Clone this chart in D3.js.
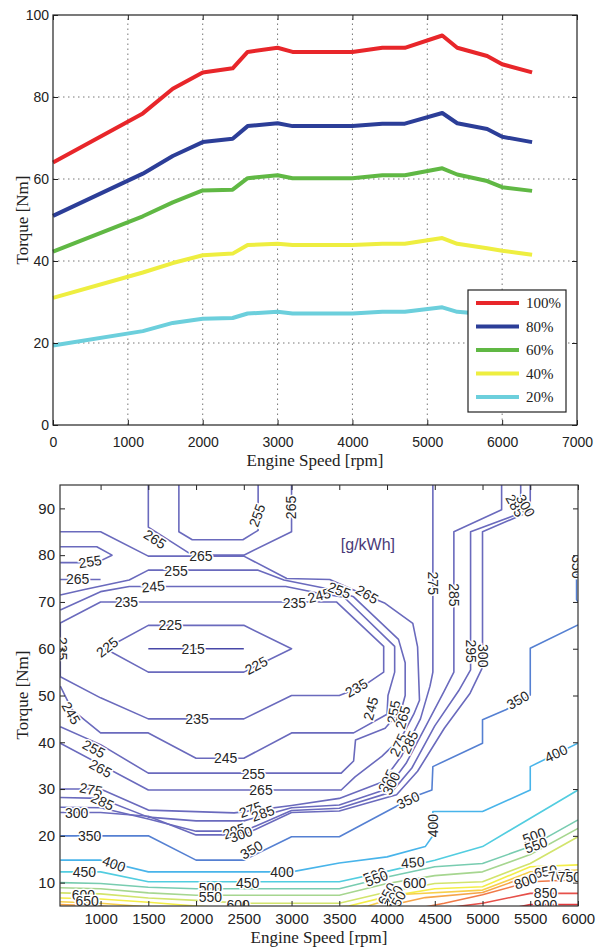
<!DOCTYPE html>
<html>
<head>
<meta charset="utf-8">
<script src="https://cdn.jsdelivr.net/npm/d3@7"></script>
<style>
  body { margin: 0; background: #fff; }
</style>
</head>
<body>
<div id="chart"></div>
<script>
// ---------- top chart data: torque curve at each load ----------
var speed   = [0, 1200, 1600, 2000, 2400, 2600, 3000, 3200, 4000, 4400, 4700, 5200, 5400, 5800, 6000, 6400];
var load100 = [64, 76, 82, 86, 87, 91, 92, 91, 91, 92, 92, 95, 92, 90, 88, 86];
var load80  = [51, 61.3, 65.6, 69, 69.8, 72.9, 73.6, 72.9, 72.9, 73.5, 73.5, 76.1, 73.6, 72.2, 70.3, 69];
var load60  = [42.3, 50.9, 54.3, 57.2, 57.4, 60.2, 60.9, 60.2, 60.2, 60.9, 60.9, 62.6, 61.1, 59.5, 58, 57.1];
var load40  = [31, 37.2, 39.5, 41.4, 41.8, 43.9, 44.2, 43.9, 43.9, 44.2, 44.2, 45.6, 44.2, 43.1, 42.5, 41.5];
var load20  = [19.4, 22.9, 24.9, 25.9, 26.1, 27.2, 27.6, 27.2, 27.2, 27.6, 27.6, 28.7, 27.6, 27, 26.5, 26];
var loadNames  = ["100%", "80%", "60%", "40%", "20%"];
var loadColors = ["#e8262a", "#2c3e98", "#60b844", "#eeee40", "#6ccfdc"];
var topXTicks = [0, 1000, 2000, 3000, 4000, 5000, 6000, 7000];
var topYTicks = [0, 20, 40, 60, 80, 100];

// ---------- bottom chart data: BSFC contour lines [rpm, Nm] ----------
var c215  = [[1500,60],[2500,60]];
var c225  = [[1050,60],[1500,65],[2500,65],[3000,60],[2500,55],[1500,55],[1050,60]];
var c235  = [[578,54],[1000,49.5],[1500,45],[2500,45],[3000,50],[3500,50],[3750,52],[3965,55],[3965,60.5],[3470,70],[1000,70],[578,65.5],[578,54]];
var c245  = [[578,52],[700,47],[1000,42],[1500,42],[2000,36.6],[2500,36.6],[3000,42],[3650,42],[4000,46],[4010,50],[4080,55],[4080,60.5],[3550,71],[3250,72],[2940,73.3],[1300,73.3],[1000,72.2],[578,68.3]];
var c255  = [[578,43.3],[1000,39.5],[1500,33.4],[3520,33.4],[3650,36],[3670,40.5],[3980,43],[4150,47],[4190,50],[4190,57],[4120,62],[3650,71.1],[3430,72.6],[2920,74.7],[2650,76.8],[1500,76.8],[1300,74.7],[820,72.6],[578,71.5]];
var c255b = [[578,81.8],[960,81.8],[1120,80],[960,78.4],[578,78.4]];
var c255c = [[1820,95],[1820,85],[1960,83.3],[2490,83.3],[2650,85.3],[2650,95]];
var c265  = [[578,85],[1000,85],[1500,79.8],[2500,79.8],[2950,75],[3400,74.8],[3710,72],[3980,69.7],[4270,65.4],[4320,60.4],[4340,49],[4280,46],[4150,41],[3945,37],[3665,32.6],[3520,29.8],[1500,29.8],[578,39.8]];
var c265b = [[1500,95],[1500,86],[1960,80],[2500,80],[3000,85],[3000,95]];
var c265c = [[578,74.8],[1000,74.8]];
var c275  = [[578,30],[1000,30],[1500,25.5],[2400,24.9],[3000,26.5],[3500,28],[3950,31.5],[4150,37],[4350,45],[4450,52],[4480,55],[4480,95]];
var c285  = [[578,28.2],[1000,28],[1500,24],[2000,23.2],[2500,23.2],[3000,26],[3500,26.6],[4000,30],[4200,35.5],[4420,44],[4600,51],[4700,55],[4700,85],[5200,89.7],[5200,95]];
var c295  = [[578,26.1],[1000,26],[1500,23.6],[2000,21],[2500,21],[3000,25.4],[3500,25.9],[4050,29.4],[4260,34.5],[4500,43.5],[4750,51],[4875,55.5],[4875,85],[5400,89],[5400,95]];
var c300  = [[578,25],[1000,25],[1500,24.2],[2000,20.2],[2500,20.2],[3000,25],[3500,25.3],[4100,28.8],[4320,33.8],[4600,43],[4870,50.5],[5000,56],[5000,85],[5500,89.4],[5500,95]];
var c350  = [[578,20],[1500,20],[2000,14.8],[2500,14.8],[3000,19.8],[3500,19.8],[4300,28.5],[4470,29.8],[4480,34.8],[5000,39.8],[5000,44.8],[5250,47],[5500,50.1],[5500,60.1],[6000,65.1]];
var c350b = [[6000,80],[5985,75.5],[5985,70.5],[6000,70]];
var c400  = [[578,14.8],[1000,14.8],[1500,12.3],[3000,12.3],[3500,14.2],[4000,15.5],[4400,17.7],[4480,20],[4480,25.2],[5000,25.2],[5500,29.8],[5500,34.8],[6000,39.8]];
var c450  = [[578,12.3],[1000,12.3],[1500,10.2],[3500,10.2],[4000,12.4],[4500,14.8],[5000,17.7],[6000,29.8]];
var c500  = [[578,10],[1000,9.8],[1500,9],[2000,8.7],[3500,8.7],[4000,11.2],[4500,13.4],[5000,14.1],[5500,17.7],[6000,23.4]];
var c550  = [[578,8.9],[1000,8.7],[1500,7.8],[2000,7.3],[3500,7.3],[4000,9.8],[4500,11.5],[5000,12.3],[5500,16],[6000,21.6]];
var c600  = [[578,7.8],[1000,7.6],[1500,6.7],[2000,6.2],[2500,5.6],[3500,5.6],[4000,8],[4500,9.8],[5000,10.2],[5500,14.1],[6000,19.8]];
var c650  = [[578,6.7],[1000,6.5],[1500,5.8],[2000,5],[2500,4.4],[3300,4.4],[3600,5],[4000,7],[4500,8.7],[5000,9.1],[5500,13.4],[6000,13.8]];
var c700  = [[578,5.9],[1000,5.6],[1500,4.8],[2500,4],[3300,4],[3800,5],[4200,7.5],[5000,8.4],[5500,12.3],[6000,12.7]];
var c750  = [[578,5.3],[1000,5],[1500,4],[3500,3.5],[4000,5],[4400,6.8],[5000,7.9],[5500,11.5],[6000,11.7]];
var c800  = [[4200,4],[4600,5.6],[5000,7.4],[5500,10.2],[6000,10.6]];
var c850  = [[4400,4],[5000,5.6],[5500,7.7],[6000,7.7]];
var c900  = [[5300,4.5],[5500,5.3],[6000,5.3]];

var levels      = [215, 225, 235, 245, 255, 265, 275, 285, 295, 300, 350, 400, 450, 500, 550, 600, 650, 700, 750, 800, 850, 900];
var levelColors = ["#4848a8", "#6a6abd", "#6a6abd", "#6a6abd", "#6a6abd", "#6a6abd", "#6a6abd", "#6a6abd", "#6a6abd", "#6a6abd",
                   "#5580d2", "#48b4ea", "#52cde0", "#78ccb0", "#a6d690", "#d2e46c", "#f4ee48", "#f7cf4a", "#f5a54a", "#f07a48", "#e6504a", "#e0383c"];

// inline labels: [level, rpm, Nm, angle]
var contourLabels = [
  [265,1570,83.4,33],[255,2640,88.5,-70],[265,3000,90.2,-90],[265,2050,79.8,0],
  [255,890,78.6,-8],[265,760,74.8,0],[255,1790,76.7,0],[245,1550,73.3,-5],[235,1270,69.9,0],
  [225,1730,65,0],[225,1070,60.3,-38],[225,2630,56.4,-28],[215,1970,60,0],
  [235,3030,69.8,0],[245,3290,71.4,-15],[255,3500,72.5,20],[265,3790,71.6,30],
  [235,600,60,90],[235,2010,44.9,0],[235,3680,51.6,-30],
  [245,690,46.2,60],[245,2310,36.6,0],[245,3830,47.2,-75],
  [255,930,38.6,28],[265,1000,34.4,28],[255,2600,33.3,0],[265,2680,29.8,0],
  [255,4070,46.5,-80],[265,4165,45.3,-75],[275,4120,39.4,-65],[285,4235,40,-65],
  [295,4000,31.8,-65],[300,4045,31.2,-65],
  [275,900,29.9,10],[285,1020,27.3,25],[300,750,24.9,0],
  [275,2570,25.6,-20],[285,2700,24.8,-20],[295,2400,21,-20],[300,2470,20.3,-20],
  [275,4480,74,90],[285,4700,71.5,90],[295,4875,59.5,90],[300,5000,58.5,90],
  [285,5340,90.6,60],[300,5450,90.6,60],
  [350,885,20,0],[350,2580,17,-30],[350,4220,27.6,-25],[350,5370,49,-30],[350,5985,77.5,90],
  [400,1140,14,20],[400,2900,12.3,0],[400,4480,22.2,-90],[400,5770,37.6,-25],
  [450,830,12.3,0],[450,2540,9.8,0],[450,4270,14.3,-5],
  [500,2150,8.8,0],[550,2150,6.8,0],[500,5540,20,-20],[550,5560,18,-20],
  [500,3870,11.6,-20],[550,3890,10.9,-20],
  [600,820,7.4,0],[650,860,6,0],[600,2440,5.3,0],
  [600,4290,9.8,0],[650,4000,7.6,-60],[700,4070,7,-60],[750,4100,5.8,-60],
  [650,5660,12.4,-10],[700,5810,11.6,-10],[750,5910,11.2,0],[800,5450,10.3,-20],[850,5660,7.8,0],[900,5660,5.2,0]
];
var botXTicks = [1000, 1500, 2000, 2500, 3000, 3500, 4000, 4500, 5000, 5500, 6000];
var botYTicks = [10, 20, 30, 40, 50, 60, 70, 80, 90];

// table the drawing uses
var loadSeries = [load100, load80, load60, load40, load20].map(function(v, i) {
  return { name: loadNames[i], color: loadColors[i], pts: speed.map(function(s, j) { return [s, v[j]]; }) };
});
var contourLines = [
  [215,c215],[225,c225],[235,c235],[245,c245],[255,c255],[255,c255b],[255,c255c],
  [265,c265],[265,c265b],[265,c265c],[275,c275],[285,c285],[295,c295],[300,c300],
  [350,c350],[350,c350b],[400,c400],[450,c450],[500,c500],[550,c550],[600,c600],
  [650,c650],[700,c700],[750,c750],[800,c800],[850,c850],[900,c900]
];
var levelColor = d3.scaleOrdinal().domain(levels).range(levelColors);

var sans = "'Liberation Sans', Arial, sans-serif";
var serif = "'Liberation Serif', 'Times New Roman', serif";

var svg = d3.select("#chart")
  .append("svg")
    .attr("width", 600)
    .attr("height", 950);

// small helper for MATLAB-like boxed axes with inward ticks
function styleAxis(g, size) {
  g.select(".domain").remove();
  g.selectAll(".tick line").attr("stroke", "#222");
  g.selectAll("text").attr("font-family", sans).attr("font-size", size).attr("fill", "#222");
}

// =============== TOP CHART ===============
var x1 = d3.scaleLinear().domain([0, 7000]).range([53, 577]);
var y1 = d3.scaleLinear().domain([0, 100]).range([425, 15]);

var g1 = svg.append("g");

// dotted grid
g1.selectAll(".vgrid")
  .data(topXTicks.slice(1, -1))
  .enter().append("line")
    .attr("x1", function(d) { return x1(d); })
    .attr("x2", function(d) { return x1(d); })
    .attr("y1", y1(0)).attr("y2", y1(100))
    .attr("stroke", "#777").attr("stroke-width", 1).attr("stroke-dasharray", "1.5,3.5");
g1.selectAll(".hgrid")
  .data(topYTicks.slice(1, -1))
  .enter().append("line")
    .attr("y1", function(d) { return y1(d); })
    .attr("y2", function(d) { return y1(d); })
    .attr("x1", x1(0)).attr("x2", x1(7000))
    .attr("stroke", "#777").attr("stroke-width", 1).attr("stroke-dasharray", "1.5,3.5");

var line1 = d3.line()
  .x(function(d) { return x1(d[0]); })
  .y(function(d) { return y1(d[1]); });

g1.selectAll(".load")
  .data(loadSeries)
  .enter().append("path")
    .attr("d", function(d) { return line1(d.pts); })
    .attr("fill", "none")
    .attr("stroke", function(d) { return d.color; })
    .attr("stroke-width", 4)
    .attr("stroke-linejoin", "round");

// axes
var ax1b = g1.append("g").attr("transform", "translate(0," + y1(0) + ")")
  .call(d3.axisBottom(x1).tickValues(topXTicks).tickSizeInner(-5).tickSizeOuter(0).tickPadding(12).tickFormat(d3.format("d")));
styleAxis(ax1b, 14);
var ax1l = g1.append("g").attr("transform", "translate(" + x1(0) + ",0)")
  .call(d3.axisLeft(y1).tickValues(topYTicks).tickSizeInner(-5).tickSizeOuter(0).tickPadding(4));
styleAxis(ax1l, 14);
var ax1t = g1.append("g").attr("transform", "translate(0," + y1(100) + ")")
  .call(d3.axisTop(x1).tickValues(topXTicks).tickSizeInner(-5).tickSizeOuter(0).tickFormat(""));
styleAxis(ax1t, 14);
var ax1r = g1.append("g").attr("transform", "translate(" + x1(7000) + ",0)")
  .call(d3.axisRight(y1).tickValues(topYTicks).tickSizeInner(-5).tickSizeOuter(0).tickFormat(""));
styleAxis(ax1r, 14);

g1.append("rect")
  .attr("x", x1(0)).attr("y", y1(100))
  .attr("width", x1(7000) - x1(0)).attr("height", y1(0) - y1(100))
  .attr("fill", "none").attr("stroke", "#222").attr("stroke-width", 1.2);

// legend
var leg = g1.append("g").attr("transform", "translate(468,290)");
leg.append("rect").attr("width", 98).attr("height", 122)
  .attr("fill", "#fff").attr("stroke", "#222").attr("stroke-width", 1.2);
var legItem = leg.selectAll(".li").data(loadSeries).enter().append("g")
  .attr("transform", function(d, i) { return "translate(0," + (13 + i * 23.5) + ")"; });
legItem.append("line").attr("x1", 8).attr("x2", 51)
  .attr("stroke", function(d) { return d.color; }).attr("stroke-width", 4);
legItem.append("text").attr("x", 58).attr("dy", "0.35em")
  .attr("font-family", serif).attr("font-size", 15).attr("fill", "#222")
  .text(function(d) { return d.name; });

g1.append("text")
  .attr("x", 315).attr("y", 466)
  .attr("text-anchor", "middle").attr("font-family", serif).attr("font-size", 17).attr("fill", "#222")
  .text("Engine Speed [rpm]");
g1.append("text")
  .attr("transform", "translate(28,220) rotate(-90)")
  .attr("text-anchor", "middle").attr("font-family", serif).attr("font-size", 17).attr("fill", "#222")
  .text("Torque [Nm]");

// =============== BOTTOM CHART ===============
var x2 = d3.scaleLinear().domain([575, 6000]).range([60, 578]);
var y2 = d3.scaleLinear().domain([5, 95]).range([906, 485]);

var g2 = svg.append("g");
g2.append("clipPath").attr("id", "plotclip")
  .append("rect")
    .attr("x", x2(575)).attr("y", y2(95))
    .attr("width", x2(6000) - x2(575)).attr("height", y2(5) - y2(95));

var line2 = d3.line()
  .x(function(d) { return x2(d[0]); })
  .y(function(d) { return y2(d[1]); });

var plot2 = g2.append("g").attr("clip-path", "url(#plotclip)");

plot2.selectAll(".contour")
  .data(contourLines)
  .enter().append("path")
    .attr("d", function(d) { return line2(d[1]); })
    .attr("fill", "none")
    .attr("stroke", function(d) { return levelColor(d[0]); })
    .attr("stroke-width", 1.6)
    .attr("stroke-linejoin", "round");

plot2.selectAll(".clabel")
  .data(contourLabels)
  .enter().append("text")
    .attr("transform", function(d) { return "translate(" + x2(d[1]) + "," + y2(d[2]) + ") rotate(" + d[3] + ")"; })
    .attr("text-anchor", "middle")
    .attr("dy", "0.35em")
    .attr("font-family", sans).attr("font-size", 14)
    .attr("fill", "#262626")
    .attr("stroke", "#fff").attr("stroke-width", 3).attr("paint-order", "stroke")
    .text(function(d) { return d[0]; });

plot2.append("text")
  .attr("x", x2(3800)).attr("y", y2(82.3))
  .attr("text-anchor", "middle").attr("dy", "0.35em")
  .attr("font-family", sans).attr("font-size", 16).attr("fill", "#4a3a78")
  .text("[g/kWh]");

var ax2b = g2.append("g").attr("transform", "translate(0," + y2(5) + ")")
  .call(d3.axisBottom(x2).tickValues(botXTicks).tickSizeInner(-5).tickSizeOuter(0).tickPadding(7).tickFormat(d3.format("d")));
styleAxis(ax2b, 15);
var ax2l = g2.append("g").attr("transform", "translate(" + x2(575) + ",0)")
  .call(d3.axisLeft(y2).tickValues(botYTicks).tickSizeInner(-5).tickSizeOuter(0).tickPadding(5));
styleAxis(ax2l, 15);
var ax2t = g2.append("g").attr("transform", "translate(0," + y2(95) + ")")
  .call(d3.axisTop(x2).tickValues(botXTicks).tickSizeInner(-5).tickSizeOuter(0).tickFormat(""));
styleAxis(ax2t, 15);
var ax2r = g2.append("g").attr("transform", "translate(" + x2(6000) + ",0)")
  .call(d3.axisRight(y2).tickValues(botYTicks).tickSizeInner(-5).tickSizeOuter(0).tickFormat(""));
styleAxis(ax2r, 15);

g2.append("rect")
  .attr("x", x2(575)).attr("y", y2(95))
  .attr("width", x2(6000) - x2(575)).attr("height", y2(5) - y2(95))
  .attr("fill", "none").attr("stroke", "#333").attr("stroke-width", 1.2);

g2.append("text")
  .attr("x", 319).attr("y", 943)
  .attr("text-anchor", "middle").attr("font-family", serif).attr("font-size", 17).attr("fill", "#222")
  .text("Engine Speed [rpm]");
g2.append("text")
  .attr("transform", "translate(28,695) rotate(-90)")
  .attr("text-anchor", "middle").attr("font-family", serif).attr("font-size", 17).attr("fill", "#222")
  .text("Torque [Nm]");
</script>
</body>
</html>
